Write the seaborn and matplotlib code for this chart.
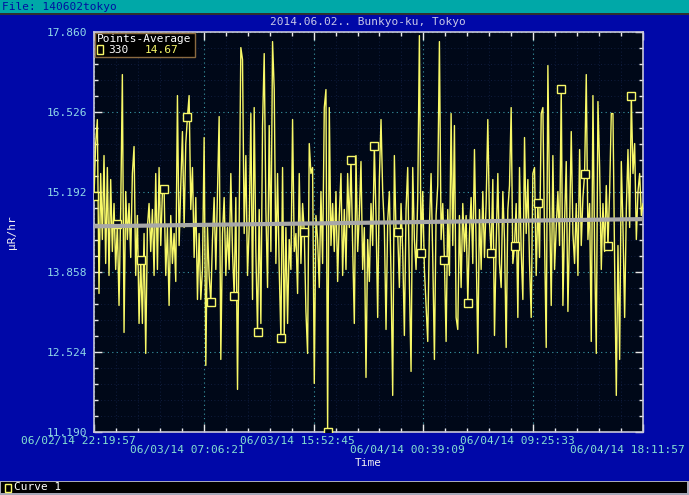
import numpy as np
import pandas as pd
import matplotlib
matplotlib.use("Agg")
import matplotlib.pyplot as plt
import matplotlib.dates as mdates
from matplotlib.patches import Rectangle
from matplotlib.ticker import AutoMinorLocator
from matplotlib.transforms import ScaledTranslation
import seaborn as sns

# ------------------------------
# data (one sample every 8 minutes)
# ------------------------------
start_time = "2014-06-02 22:19:57"
dose = [
    15.12, 16.0, 16.4, 13.5, 15.5, 14.4, 15.8, 14.0, 15.6, 13.8, 15.4, 14.2, 15.0, 13.9,
    14.66, 13.3, 14.9, 17.15, 12.85, 15.2, 14.4, 15.0, 14.1, 15.5, 15.95, 13.8, 14.8, 13.0,
    14.06, 13.0, 14.5, 12.5, 14.6, 15.0, 14.2, 14.9, 13.8, 15.5, 13.9, 15.6, 14.3, 15.2,
    15.24, 13.8, 14.6, 13.3, 14.8, 14.0, 14.5, 13.7, 16.8, 14.3, 15.3, 16.2, 14.6, 16.0,
    16.44, 16.8, 14.9, 15.6, 14.1, 15.1, 13.4, 14.5, 13.4, 13.9, 16.1, 12.3, 14.6, 13.8,
    13.36, 14.4, 15.1, 13.9, 15.2, 16.45, 12.4, 14.5, 15.1, 13.8, 14.6, 13.9, 15.5, 14.2,
    13.46, 15.1, 11.9, 14.8, 17.6, 17.4, 14.5, 15.8, 13.8, 14.6, 16.5, 13.4, 16.6, 14.2,
    12.86, 14.9, 13.0, 16.3, 17.5, 14.9, 13.6, 16.3, 14.2, 17.7, 16.9, 14.0, 15.5, 13.9,
    12.76, 15.6, 12.8, 14.6, 13.0, 14.4, 13.9, 16.4, 14.2, 14.5, 13.5, 15.5, 14.0, 15.0,
    14.53, 13.2, 12.5, 16.0, 15.5, 15.6, 12.0, 14.8, 14.4, 13.6, 15.2, 14.0, 16.6, 16.9,
    11.19, 16.6, 14.3, 15.0, 14.2, 15.2, 13.7, 14.8, 15.5, 13.8, 14.9, 13.9, 15.5, 14.6,
    15.73, 14.3, 13.0, 15.8, 14.2, 14.8, 15.7, 13.9, 14.6, 12.1, 14.4, 13.7, 15.0, 14.3,
    15.96, 14.8, 13.1, 15.4, 16.4, 15.2, 14.6, 12.9, 14.7, 15.2, 13.8, 11.8, 15.8, 14.5,
    14.53, 13.6, 15.0, 14.2, 12.8, 14.9, 15.6, 13.7, 12.2, 15.6, 14.4, 13.9, 15.1, 17.8,
    14.17, 15.2, 13.9, 13.3, 12.7, 14.6, 15.5, 14.1, 12.4, 14.8, 15.3, 17.7, 14.4, 15.0,
    14.05, 12.7, 14.9, 13.8, 16.5, 14.3, 16.3, 13.1, 12.9, 14.8, 13.6, 15.0, 14.2, 14.8,
    13.34, 14.5, 15.1, 14.0, 15.9, 14.3, 12.5, 14.9, 13.9, 15.2, 14.1, 15.0, 16.4, 14.7,
    14.17, 15.4, 12.8, 14.3, 15.5, 14.0, 13.6, 15.2, 14.4, 12.6, 14.9, 15.3, 16.6, 14.0,
    14.29, 15.0, 13.1, 15.6, 14.2, 13.4, 16.1, 14.5, 15.4, 14.0, 13.1, 15.5, 15.6, 13.8,
    15.01, 14.1, 16.5, 16.6, 14.4, 12.6, 17.3, 15.0, 13.3, 15.8, 13.9, 14.6, 15.2, 14.3,
    16.91, 13.3, 14.7, 15.7, 13.2, 14.6, 16.2, 14.5, 14.0, 15.0, 13.8, 15.9, 14.3, 15.1,
    15.49, 17.15, 14.4, 15.0, 12.7, 16.8, 14.2, 12.5, 16.7, 15.6, 13.9, 15.0, 14.2, 15.3,
    14.29, 15.2, 16.5, 16.5, 14.0, 11.8, 14.3, 12.4, 15.7, 14.6, 13.1, 14.9, 15.9, 14.6,
    16.79, 15.5, 16.0, 14.4, 15.2, 15.5, 14.8, 15.0,
]
avg_line = [14.62, 14.74]          # running average at start / end
y_ticks = [11.190, 12.524, 13.858, 15.192, 16.526, 17.860]
x_tick_labels = [
    "06/02/14 22:19:57", "06/03/14 07:06:21", "06/03/14 15:52:45",
    "06/04/14 00:39:09", "06/04/14 09:25:33", "06/04/14 18:11:57",
]
legend_points = "330"
legend_avg = "14.67"

times = pd.date_range(start_time, periods=len(dose), freq="8min")

# ------------------------------
# style
# ------------------------------
sns.set_theme(style="ticks")
plt.rcParams["font.family"] = ["DejaVu Sans Mono"]
plt.rcParams.update({"font.size": 8, "xtick.labelsize": 8, "ytick.labelsize": 8,
                     "axes.labelsize": 8})

BLUE = "#0008A8"
PLOT_BG = "#000818"
YELLOW = "#F8F868"
TICK_TXT = "#86E0D0"

W, H = 689, 495
def px(x, y):
    return x / W, 1 - y / H

fig = plt.figure(figsize=(W / 100, H / 100), dpi=100, facecolor=BLUE)
ax = fig.add_axes([94 / W, (H - 432) / H, 549 / W, 400 / H], facecolor=PLOT_BG)

sns.lineplot(x=times, y=dose, ax=ax, estimator=None, color=YELLOW, lw=1,
             marker="s", markevery=14, ms=6, mfc=PLOT_BG, mec=YELLOW, mew=1,
             zorder=3)
sns.lineplot(x=[times[0], times[-1]], y=avg_line, ax=ax, color="#A8A8A8",
             lw=3, zorder=4)

ax.set_xlim(times[0], times[-1])
ax.set_ylim(y_ticks[0], y_ticks[-1])

ax.set_yticks(y_ticks)
ax.set_yticklabels([f"{v:.3f}" for v in y_ticks], color="#90D8E8")
tick_pos = mdates.date2num(pd.date_range(times[0], times[-1], periods=len(x_tick_labels)))
ax.set_xticks(tick_pos)
ax.set_xticklabels([lab if k % 2 == 0 else "\n" + lab
                    for k, lab in enumerate(x_tick_labels)], color=TICK_TXT)
ax.xaxis.set_minor_locator(AutoMinorLocator(5))
ax.yaxis.set_minor_locator(AutoMinorLocator(5))

ax.tick_params(which="both", direction="in", top=True, right=True,
               color="#E8E8E8", width=1)
ax.tick_params(which="major", length=6, pad=3)
ax.tick_params(which="minor", length=3)
ax.tick_params(axis="y", pad=5)

# labels sit a bit left of their tick, as in the original
shift = ScaledTranslation(-16 / 100, 0, fig.dpi_scale_trans)
for lab in ax.get_xticklabels():
    lab.set_transform(lab.get_transform() + shift)
    lab.set_linespacing(0.85)

ax.grid(which="minor", color="#14244a", ls=(0, (1, 3)), lw=0.6)
ax.grid(which="major", color="#3A9AA8", ls=(0, (1, 3)), lw=0.8)
for sp in ax.spines.values():
    sp.set_color("#C8C8D8")
    sp.set_linewidth(1.2)

ax.set_xlabel("Time", color="#F0F0F0")
ax.xaxis.set_label_coords(0.5, -0.064)
ax.set_ylabel("\u03bcR/hr", color="#F0F0F0")
ax.yaxis.set_label_coords(-0.14, 0.5)

# legend box (Points-Average)
fig.add_artist(Rectangle(px(95, 57), 100 / W, 24 / H, transform=fig.transFigure,
                         fc="black", ec="#8A6A40", lw=1, zorder=5))
fig.text(*px(97, 39), "Points-Average", color="white", va="center", zorder=6)
fig.add_artist(Rectangle(px(97, 54), 6 / W, 9 / H, transform=fig.transFigure,
                         fc="none", ec=YELLOW, lw=1, zorder=6))
fig.text(*px(108, 50), legend_points, color="white", va="center", zorder=6)
fig.text(*px(145, 50), legend_avg, color=YELLOW, va="center", zorder=6)

# title
fig.text(*px(368, 22), "2014.06.02.. Bunkyo-ku, Tokyo", color="#C8C8E8",
         ha="center", va="center")

# top file bar
fig.add_artist(Rectangle(px(0, 13), 1, 13 / H, transform=fig.transFigure,
                         fc="#00A8A8", ec="none"))
fig.add_artist(Rectangle(px(0, 15), 1, 2 / H, transform=fig.transFigure,
                         fc="#303030", ec="none"))
fig.text(*px(2, 6.5), "File: 140602tokyo", color="#0010A0", va="center")

# bottom curve bar
fig.add_artist(Rectangle(px(0, 495), 1, 14 / H, transform=fig.transFigure,
                         fc="#A8A8B8", ec="none"))
fig.add_artist(Rectangle(px(1, 493), (W - 3) / W, 11 / H, transform=fig.transFigure,
                         fc="black", ec="none"))
fig.add_artist(Rectangle(px(5, 492), 6 / W, 8 / H, transform=fig.transFigure,
                         fc="none", ec=YELLOW, lw=1))
fig.text(*px(14, 487.5), "Curve 1", color="white", va="center")

fig.savefig("out.png", dpi=100, facecolor=BLUE)
